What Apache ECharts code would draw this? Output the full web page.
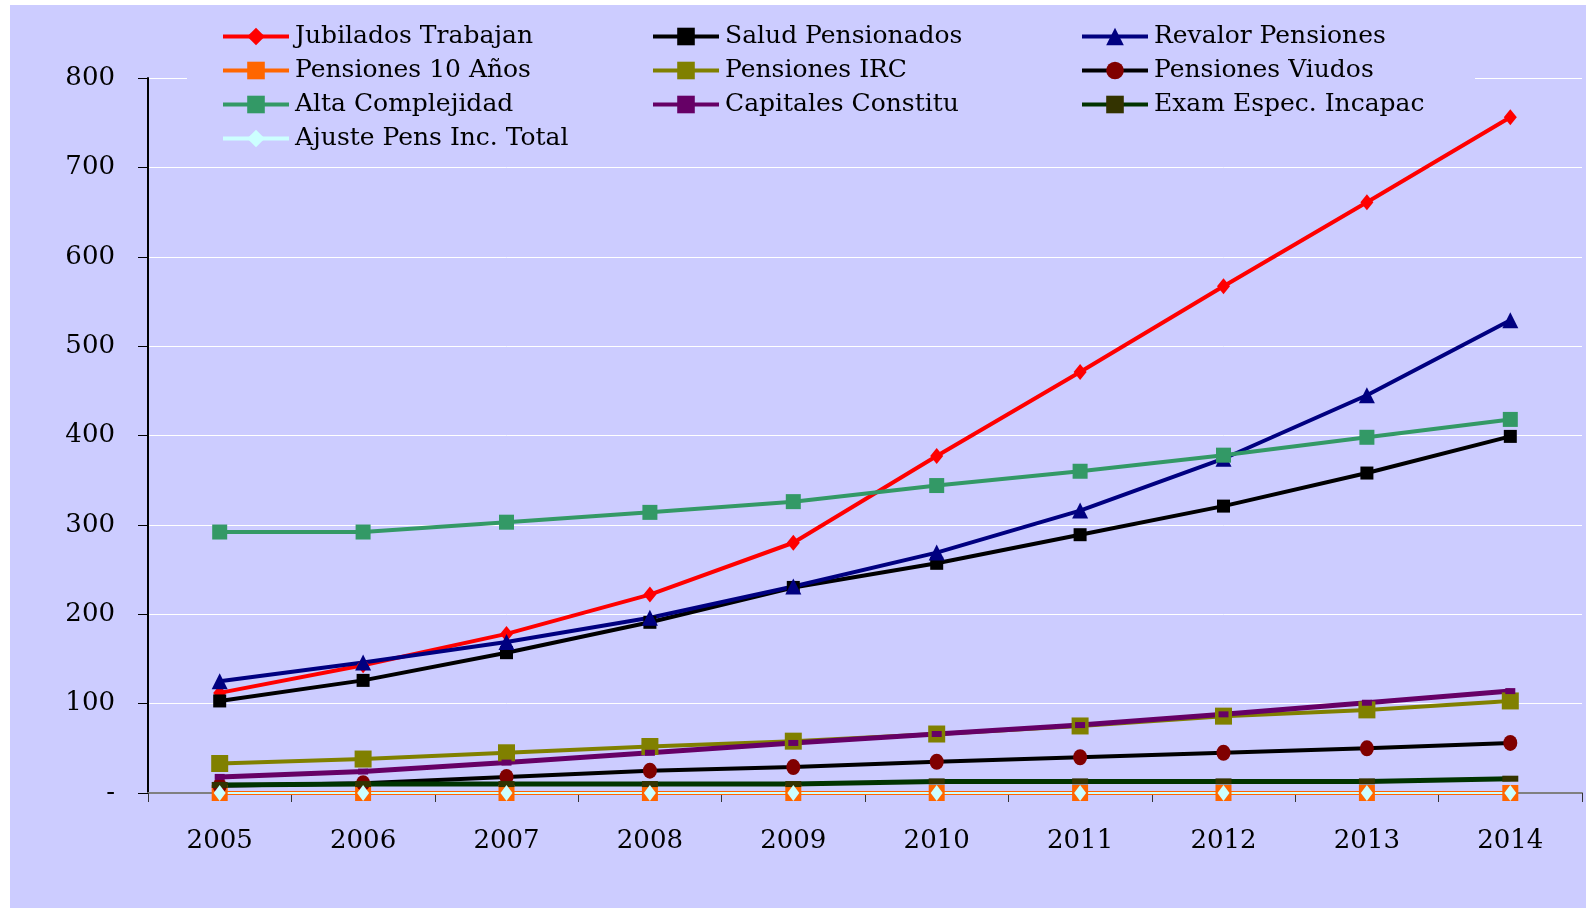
<!DOCTYPE html>
<html>
<head>
<meta charset="utf-8">
<title>Evolución</title>
<script src="https://cdn.jsdelivr.net/npm/echarts@6.0.0/dist/echarts.min.js"></script>
<style>
  html, body { margin: 0; padding: 0; background: #ffffff; }
  #chart { position: absolute; left: 10px; top: 5px; width: 1576px; height: 903px; }
</style>
</head>
<body>
<div id="chart"></div>
<script>
// datos
var years = ['2005', '2006', '2007', '2008', '2009', '2010', '2011', '2012', '2013', '2014'];
var yTickLabels = ['-', '100', '200', '300', '400', '500', '600', '700', '800'];

var jubilados = [112, 143, 178, 222, 280, 377, 471, 567, 661, 756];
var salud = [103, 126, 157, 191, 230, 257, 289, 321, 358, 399];
var revalor = [125, 146, 169, 196, 231, 269, 316, 374, 445, 529];
var pens10 = [0, 0, 0, 0, 0, 0, 0, 0, 0, 0];
var irc = [33, 38, 45, 52, 58, 66, 75, 86, 93, 103];
var viudos = [8, 11, 18, 25, 29, 35, 40, 45, 50, 56];
var alta = [292, 292, 303, 314, 326, 344, 360, 378, 398, 418];
var capitales = [18, 24, 34, 45, 56, 66, 76, 88, 101, 114];
var exam = [9, 10, 10, 10, 10, 13, 13, 13, 13, 16];
var ajuste = [0, 0, 0, 0, 0, 0, 0, 0, 0, 0];

var font = 'DejaVu Serif';

function serie(name, data, lineColor, symbol, symbolSize, symbolColor, width) {
    return {
        name: name,
        type: 'line',
        data: data,
        symbol: symbol,
        symbolSize: symbolSize,
        showAllSymbol: true,
        animation: false,
        lineStyle: { color: lineColor, width: width },
        itemStyle: { color: symbolColor, borderWidth: 0 },
        emphasis: { disabled: true }
    };
}

function legendCol(left, names) {
    return {
        orient: 'vertical',
        left: left,
        top: 19,
        itemWidth: 66,
        itemHeight: 22,
        itemGap: 9,
        padding: 0,
        selectedMode: false,
        lineStyle: { width: 4 },
        textStyle: { fontFamily: font, fontSize: 25, lineHeight: 24, color: '#000000', padding: [0, 0, 0, 1] },
        data: names
    };
}

var chart = echarts.init(document.getElementById('chart'));

var option = {
    backgroundColor: '#CCCCFF',
    animation: false,
    graphic: [{
        type: 'rect',
        z: 1,
        shape: { x: 177, y: 10, width: 1288, height: 140 },
        style: { fill: '#CCCCFF' }
    }],
    legend: [
        legendCol(211, ['Jubilados Trabajan', 'Pensiones 10 Años', 'Alta Complejidad', 'Ajuste Pens Inc. Total']),
        legendCol(641, ['Salud Pensionados', 'Pensiones IRC', 'Capitales Constitu']),
        legendCol(1070, ['Revalor Pensiones', 'Pensiones Viudos', 'Exam Espec. Incapac'])
    ],
    grid: { left: 138, right: 4, top: 73, bottom: 115, containLabel: false },
    xAxis: {
        type: 'category',
        data: years,
        boundaryGap: true,
        axisLine: { lineStyle: { color: '#808080', width: 2 } },
        axisTick: { show: true, length: 9, lineStyle: { color: '#333333', width: 1 } },
        axisLabel: { fontFamily: font, fontSize: 26, color: '#000000', margin: 35 },
        splitLine: { show: false }
    },
    yAxis: {
        type: 'value',
        min: 0,
        max: 800,
        interval: 100,
        axisLine: { show: true, lineStyle: { color: '#000000', width: 2 } },
        axisTick: { show: true, length: 10, lineStyle: { color: '#000000', width: 1 } },
        axisLabel: {
            fontFamily: font, fontSize: 26, color: '#000000', margin: 33,
            formatter: function (v) { return yTickLabels[v / 100]; }
        },
        splitLine: { show: true, lineStyle: { color: '#FFFFFF', width: 1 } }
    },
    series: [
        serie('Jubilados Trabajan', jubilados, '#FF0000', 'diamond', [13, 16], '#FF0000', 4),
        serie('Salud Pensionados', salud, '#000000', 'rect', 13, '#000000', 4),
        serie('Revalor Pensiones', revalor, '#000080', 'triangle', 16, '#000080', 4),
        serie('Pensiones 10 Años', pens10, '#FF6600', 'rect', 16, '#FF6600', 4),
        serie('Pensiones IRC', irc, '#808000', 'rect', 17, '#808000', 4),
        serie('Pensiones Viudos', viudos, '#000000', 'circle', [14, 16], '#800000', 4),
        serie('Alta Complejidad', alta, '#339966', 'rect', 15, '#339966', 4),
        serie('Capitales Constitu', capitales, '#660066', 'rect', [10, 6], '#660066', 5),
        serie('Exam Espec. Incapac', exam, '#003300', 'rect', [16, 6], '#333300', 5),
        serie('Ajuste Pens Inc. Total', ajuste, '#CCFFFF', 'diamond', [12, 16], '#CCFFFF', 2)
    ]
};

chart.setOption(option);
</script>
</body>
</html>
